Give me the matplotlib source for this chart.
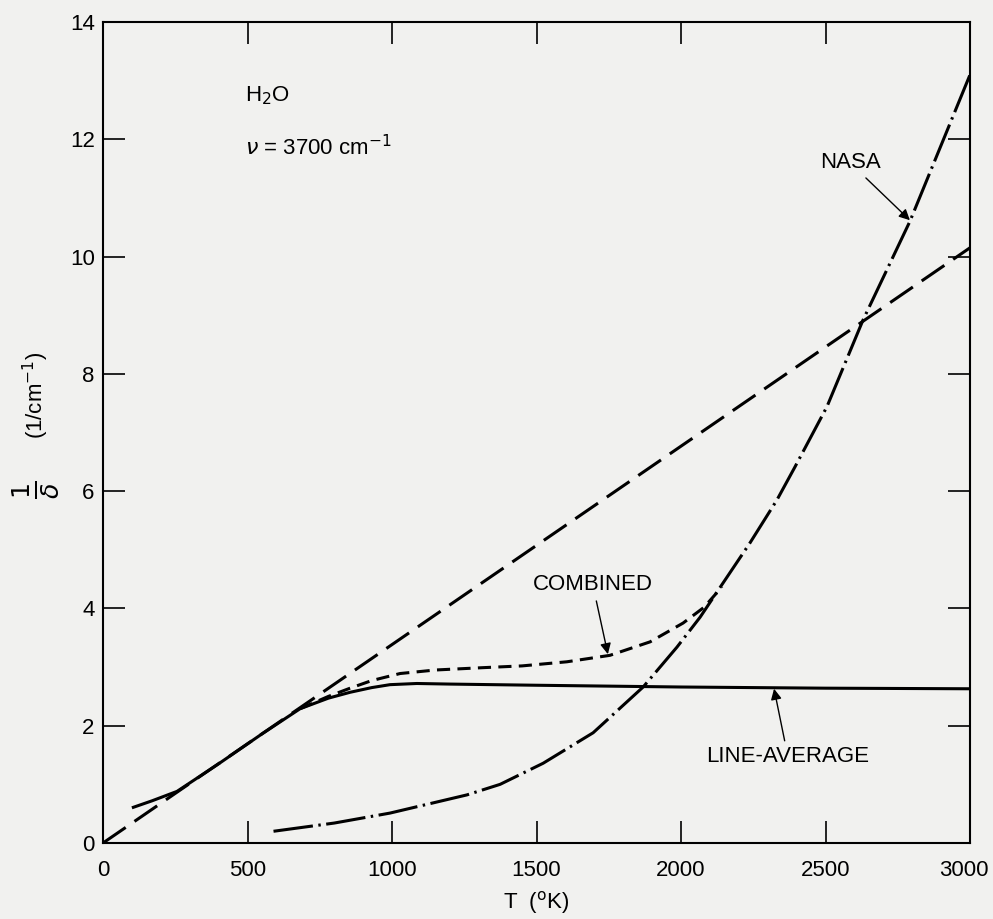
import matplotlib
matplotlib.use("Agg")
import matplotlib.pyplot as plt
import matplotlib.transforms as mtransforms
import numpy as np

plt.rcParams['font.family'] = ['Liberation Sans', 'DejaVu Sans']

# straight long-dashed line (weak line limit)
t_lin = [0, 3000]
y_lin = [0, 10.15]

# line-average (solid)
t_avg = [100, 170, 256, 400, 550, 682, 780, 855, 930, 993, 1086, 1200, 1500, 2000, 2500, 3000]
y_avg = [0.60, 0.72, 0.88, 1.35, 1.86, 2.29, 2.47, 2.57, 2.65, 2.70, 2.72, 2.71, 2.69, 2.66, 2.64, 2.63]

# combined (short dashes)
t_comb = [682, 780, 855, 930, 1028, 1150, 1315, 1450, 1605, 1754, 1893, 2007, 2080, 2142]
y_comb = [2.29, 2.50, 2.64, 2.77, 2.89, 2.95, 2.99, 3.02, 3.09, 3.20, 3.43, 3.75, 4.02, 4.37]

# NASA (dash-dot)
t_nasa = [590, 800, 993, 1259, 1374, 1523, 1696, 1869, 1986, 2066, 2145, 2239, 2332, 2394, 2505, 2630, 2792, 3000]
y_nasa = [0.20, 0.34, 0.51, 0.82, 1.00, 1.36, 1.88, 2.66, 3.34, 3.85, 4.43, 5.12, 5.85, 6.41, 7.44, 8.92, 10.6, 13.1]

bg = '#f1f1ef'
fs = 16
W, H = 993, 919
fig = plt.figure(figsize=(W / 100, H / 100), dpi=100, facecolor=bg)
ax = fig.add_axes([103 / W, (H - 843) / H, 867 / W, 821 / H])
ax.set_facecolor(bg)

lw = 2.2
ax.plot(t_lin, y_lin, color='black', lw=lw, ls=(0, (9, 3.5)))
ax.plot(t_avg, y_avg, color='black', lw=lw, solid_capstyle='butt')
ax.plot(t_comb, y_comb, color='black', lw=lw, ls=(0, (4.3, 2.4)))
ax.plot(t_nasa, y_nasa, color='black', lw=lw, ls=(0, (13, 1.8, 0.8, 1.8)))

ax.set_xlim(0, 3000)
ax.set_ylim(0, 14)
ax.set_xticks(np.arange(0, 3001, 500))
ax.set_yticks(np.arange(0, 15, 2))
ax.tick_params(direction='in', length=16, width=1.2, top=True, right=True, labelsize=fs)
ax.tick_params(axis='x', pad=12)
ax.tick_params(axis='y', pad=6)
for s in ax.spines.values():
    s.set_linewidth(1.5)

# keep the last x label inside the figure
fig.canvas.draw()
last = ax.get_xticklabels()[-1]
last.set_transform(last.get_transform() + mtransforms.ScaledTranslation(-6 / 100, 0, fig.dpi_scale_trans))

ax.set_xlabel('T  ($^{\\rm o}$K)', fontsize=fs, labelpad=6)

# y label: big fraction plus units, drawn as figure text
fig.text(36 / W, 1 - 490 / H, r'$\frac{1}{\delta}$', fontsize=26, rotation=90, ha='center', va='center')
fig.text(36 / W, 1 - 395 / H, '(1/cm$^{-1}$)', fontsize=fs, rotation=90, ha='center', va='center')

ax.text(491, 12.75, 'H$_2$O', fontsize=fs, va='center', ha='left')
ax.text(491, 11.85, r'$\nu$ = 3700 cm$^{-1}$', fontsize=fs, va='center', ha='left')

arrow = dict(arrowstyle='-|>', color='black', lw=1.0, mutation_scale=16, shrinkA=2, shrinkB=0)
ax.annotate('NASA', xy=(2792, 10.62), xytext=(2585, 11.6), fontsize=fs,
            ha='center', va='center', arrowprops=arrow)
ax.annotate('COMBINED', xy=(1747, 3.22), xytext=(1695, 4.4), fontsize=fs,
            ha='center', va='center', arrowprops=arrow)
ax.annotate('LINE-AVERAGE', xy=(2322, 2.63), xytext=(2370, 1.47), fontsize=fs,
            ha='center', va='center', arrowprops=arrow)

fig.savefig('out.png', dpi=100, facecolor=bg)
